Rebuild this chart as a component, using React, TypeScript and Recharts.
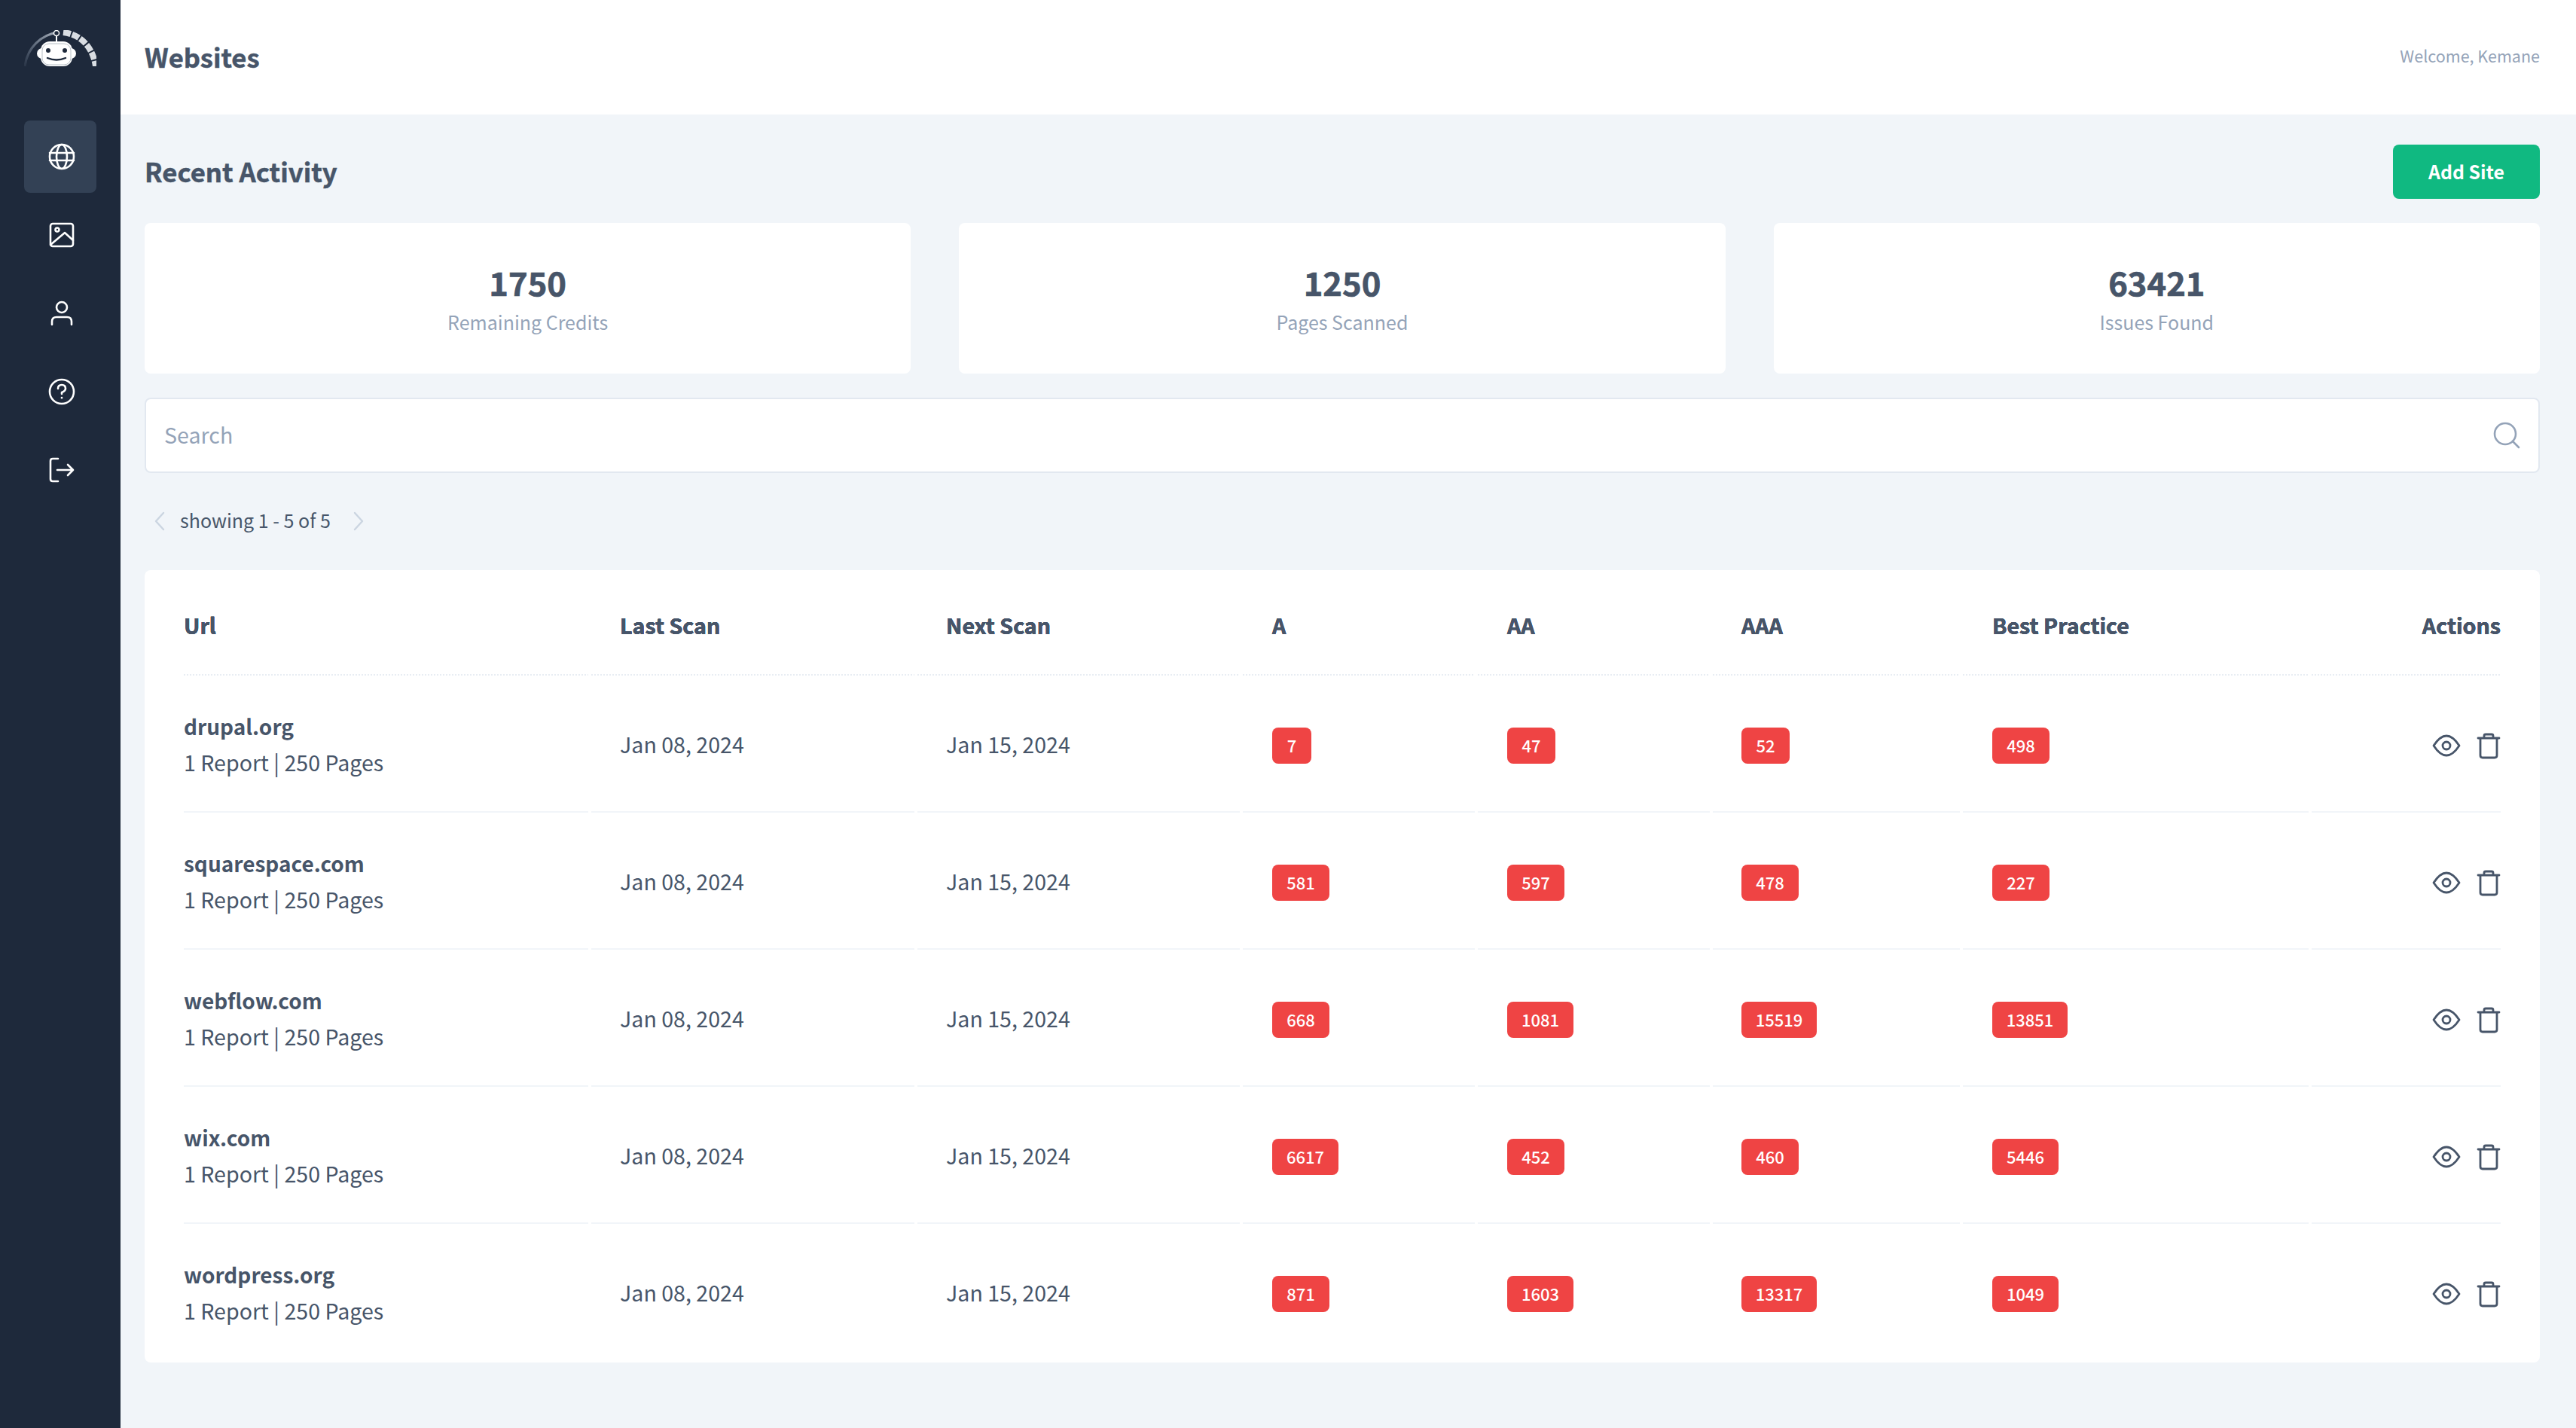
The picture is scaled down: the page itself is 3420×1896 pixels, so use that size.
import React from "react";
import { ScatterChart, Scatter, XAxis, YAxis, CartesianGrid } from "recharts";

const FONT = "'Noto Sans CJK SC', 'Noto Sans', sans-serif";
const INK = "#475569";
const MUTED = "#94a3b8";

const columns = ["Url", "Last Scan", "Next Scan", "A", "AA", "AAA", "Best Practice", "Actions"];
const sites = ["drupal.org", "squarespace.com", "webflow.com", "wix.com", "wordpress.org"];
const siteSubtitle = "1 Report | 250 Pages";
const lastScan = "Jan 08, 2024";
const nextScan = "Jan 15, 2024";
const scoresA = [7, 581, 668, 6617, 871];
const scoresAA = [47, 597, 1081, 452, 1603];
const scoresAAA = [52, 478, 15519, 460, 13317];
const scoresBest = [498, 227, 13851, 5446, 1049];

const statValues = ["1750", "1250", "63421"];
const statLabels = ["Remaining Credits", "Pages Scanned", "Issues Found"];

const scoreByColumn: Record<string, number[]> = { A: scoresA, AA: scoresAA, AAA: scoresAAA, "Best Practice": scoresBest };

const cells = sites.flatMap((site, r) =>
  columns.map((col) => ({ col, site, value: scoreByColumn[col] ? scoreByColumn[col][r] : null }))
);

// Table layout
const CHART_W = 3180;
const CHART_H = 1052;
const COLUMN_OFFSETS: Record<string, number> = {
  Url: 52, "Last Scan": 631, "Next Scan": 1064, A: 1497, AA: 1809, AAA: 2120, "Best Practice": 2453, Actions: 3128,
};
const GAPS = [589, 1022, 1454, 1766, 2078, 2410, 2873];

function columnScale(dom: any[] = columns, rng: number[] = [0, CHART_W]): any {
  let d = dom;
  let r = rng;
  const f: any = (v: string) => {
    const o = COLUMN_OFFSETS[v];
    return o === undefined ? undefined : r[0] + (o / CHART_W) * (r[1] - r[0]);
  };
  f.domain = (x?: any[]) => { if (x === undefined) return d; d = x; return f; };
  f.range = (x?: number[]) => { if (x === undefined) return r; r = x; return f; };
  f.copy = () => columnScale(d, r);
  return f;
}

const textBase = { fontFamily: FONT, dominantBaseline: "central" as const };

function Badge({ x, y, value }: { x: number; y: number; value: number }) {
  const label = String(value);
  const w = 40 + label.length * 12;
  return (
    <g>
      <rect x={x} y={y - 24} width={w} height={48} rx={8} fill="#ef4444" />
      <text x={x + w / 2} y={y - 1} textAnchor="middle" fontSize={22} fontWeight={500} fill="#fff" {...textBase}>{label}</text>
    </g>
  );
}

function Actions({ y }: { y: number }) {
  const ex = 3056;
  const tx = 3112;
  return (
    <g fill="none" stroke={INK} strokeWidth={2.8} strokeLinecap="round" strokeLinejoin="round">
      <path d={`M${ex - 17} ${y} Q${ex} ${y - 26} ${ex + 17} ${y} Q${ex} ${y + 26} ${ex - 17} ${y} Z`} />
      <circle cx={ex} cy={y} r={5} />
      <path d={`M${tx - 14} ${y - 10} H${tx + 14} M${tx - 11} ${y - 10} V${y + 13} Q${tx - 11} ${y + 16} ${tx - 8} ${y + 16} H${tx + 8} Q${tx + 11} ${y + 16} ${tx + 11} ${y + 13} V${y - 10} M${tx - 6} ${y - 10} V${y - 13} Q${tx - 6} ${y - 15} ${tx - 4} ${y - 15} H${tx + 4} Q${tx + 6} ${y - 15} ${tx + 6} ${y - 13} V${y - 10}`} />
    </g>
  );
}

function Cell(props: any) {
  const { cx, cy, payload } = props;
  const { col, site, value } = payload;
  if (col === "Url") {
    return (
      <g>
        <text x={cx} y={cy - 26} fontSize={28} fontWeight={600} fill={INK} {...textBase}>{site}</text>
        <text x={cx} y={cy + 21} fontSize={28.6} fontWeight={400} fill={INK} {...textBase}>{siteSubtitle}</text>
      </g>
    );
  }
  if (col === "Last Scan" || col === "Next Scan") {
    return <text x={cx} y={cy - 3} fontSize={28.6} fill={INK} {...textBase}>{col === "Last Scan" ? lastScan : nextScan}</text>;
  }
  if (col === "Actions") return <Actions y={cy} />;
  return <Badge x={cx} y={cy} value={value} />;
}

function HeaderTick(props: any) {
  const { x, payload } = props;
  const v = payload.value;
  return (
    <text x={x} y={72} textAnchor={v === "Actions" ? "end" : "start"} fontSize={28.6} fontWeight={700} fill={INK} {...textBase}>{v}</text>
  );
}

function GridLine(props: any) {
  const { y1, index } = props;
  const stops = [52, ...GAPS, 3128];
  const first = index === 0;
  return (
    <g>
      {stops.slice(0, -1).map((s, i) => (
        <line key={i} x1={s === 52 ? s : s + 4} x2={stops[i + 1]} y1={y1} y2={y1}
          stroke={first ? "#e8edf3" : "#f1f5f9"} strokeWidth={2} strokeDasharray={first ? "2 2" : undefined} />
      ))}
    </g>
  );
}

function Logo() {
  return (
    <svg width={96} height={48} viewBox="0 0 96 48" style={{ position: "absolute", left: 32, top: 40 }}>
      <defs>
        <linearGradient id="logoArc" x1="0" y1="1" x2="1" y2="0">
          <stop offset="0" stopColor="#94a3b8" stopOpacity={0.1} />
          <stop offset="1" stopColor="#aab2bc" stopOpacity={1} />
        </linearGradient>
      </defs>
      <path d="M1 48 C4 24 22 6 45 3" fill="none" stroke="url(#logoArc)" strokeWidth={3} />
      <path d="M52 3 C78 6 92 26 95 48" fill="none" stroke="#d9dde2" strokeWidth={8} strokeDasharray="10 2" />
      <path d="M43 8 V16" stroke="#fff" strokeWidth={2} />
      <circle cx={43} cy={4} r={3.5} fill="#1e293b" stroke="#fff" strokeWidth={1.5} />
      <rect x={22} y={15} width={42} height={33} rx={12} fill="#fff" />
      <rect x={17} y={24} width={52} height={14} rx={7} fill="#fff" />
      <rect x={24} y={18} width={38} height={28} rx={9} fill="none" stroke="#9aa3ae" strokeWidth={0.7} />
      <circle cx={32} cy={27} r={3} fill="#1e293b" />
      <circle cx={54} cy={27} r={3} fill="#1e293b" />
      <path d="M31 37 Q43 42 55 37" fill="none" stroke="#1e293b" strokeWidth={2.4} strokeLinecap="round" />
    </svg>
  );
}

function NavIcon({ y, children }: { y: number; children: React.ReactNode }) {
  return (
    <svg width={40} height={40} viewBox="-20 -20 40 40" fill="none" stroke="#fff" strokeWidth={2.6} strokeLinecap="round" strokeLinejoin="round"
      style={{ position: "absolute", left: 62, top: y - 20 }}>
      {children}
    </svg>
  );
}

function Sidebar() {
  return (
    <div style={{ position: "absolute", left: 0, top: 0, width: 160, height: 1896, background: "#1e293b" }}>
      <Logo />
      <div style={{ position: "absolute", left: 32, top: 160, width: 96, height: 96, borderRadius: 8, background: "#334155" }} />
      <NavIcon y={208}>
        <circle r={16} />
        <ellipse rx={7} ry={16} />
        <path d="M-16 -5 H16 M-16 5 H16" />
      </NavIcon>
      <NavIcon y={312}>
        <rect x={-15} y={-15} width={30} height={30} rx={3} />
        <circle cx={-6} cy={-7} r={2.5} />
        <path d="M-15 13 L4 -3 L15 7" />
      </NavIcon>
      <NavIcon y={416}>
        <circle cy={-8} r={7} />
        <path d="M-13 15 V11 Q-13 5 -7 5 H7 Q13 5 13 11 V15" />
      </NavIcon>
      <NavIcon y={520}>
        <circle r={16} />
        <path d="M-5 -4 Q-5 -9 0 -9 Q5 -9 5 -4 Q5 -1 0 1 V3" />
        <path d="M0 8 V8.2" />
      </NavIcon>
      <NavIcon y={624}>
        <path d="M-5 -15 H-12 Q-15 -15 -15 -12 V12 Q-15 15 -12 15 H-5" />
        <path d="M-6 0 H15 M8 -7 L15 0 L8 7" />
      </NavIcon>
    </div>
  );
}

function Abs({ x, y, right, size, weight, color, center, heavy, children }: any) {
  const style: React.CSSProperties = {
    position: "absolute", top: y, lineHeight: 0, fontSize: size, fontWeight: weight, color, whiteSpace: "nowrap", fontFamily: FONT,
  };
  if (heavy) (style as any).WebkitTextStroke = `${heavy}px ${color}`;
  if (center) { style.left = x; style.transform = "translateX(-50%)"; }
  else if (right !== undefined) style.right = right;
  else style.left = x;
  return <div style={style}>{children}</div>;
}

export default function App() {
  const cardW = 1017.33;
  return (
    <div style={{ position: "absolute", left: 0, top: 0, width: 3420, height: 1896, overflow: "hidden", background: "#f1f5f9", fontFamily: FONT }}>
      <Sidebar />
      <div style={{ position: "absolute", left: 160, top: 0, width: 3260, height: 152, background: "#fff" }} />
      <Abs x={192} y={75} size={34.6} weight={600} color={INK} heavy={0.5}>Websites</Abs>
      <Abs right={48} y={74} size={21.5} weight={400} color={MUTED}>Welcome, Kemane</Abs>
      <Abs x={192} y={227} size={34.7} weight={600} color={INK} heavy={0.5}>Recent Activity</Abs>

      <div style={{ position: "absolute", left: 3177, top: 192, width: 195, height: 72, borderRadius: 8, background: "#10b981" }} />
      <Abs x={3274.5} center y={227} size={24.8} weight={600} color="#fff">Add Site</Abs>

      {statValues.map((v, i) => {
        const left = 192 + i * (cardW + 64);
        return (
          <React.Fragment key={v}>
            <div style={{ position: "absolute", left, top: 296, width: cardW, height: 200, borderRadius: 8, background: "#fff" }} />
            <Abs x={left + cardW / 2} center y={375} size={43.5} weight={700} color={INK} heavy={0.7}>{v}</Abs>
            <Abs x={left + cardW / 2} center y={427} size={25} weight={400} color={MUTED}>{statLabels[i]}</Abs>
          </React.Fragment>
        );
      })}

      <div style={{ position: "absolute", left: 192, top: 528, width: 3180, height: 100, boxSizing: "border-box", border: "2px solid #e2e8f0", borderRadius: 8, background: "#fff" }} />
      <Abs x={218} y={577} size={28.6} weight={400} color={MUTED}>Search</Abs>
      <svg width={40} height={40} viewBox="-20 -20 40 40" fill="none" stroke={MUTED} strokeWidth={2.6} strokeLinecap="round" style={{ position: "absolute", left: 3308, top: 558 }}>
        <circle cx={-2} cy={-2} r={14} />
        <path d="M8 8 L16 16" />
      </svg>

      <svg width={24} height={32} viewBox="0 0 24 32" fill="none" stroke="#cbd5e1" strokeWidth={2.4} strokeLinecap="round" strokeLinejoin="round" style={{ position: "absolute", left: 200, top: 676 }}>
        <path d="M17 5 L7 16 L17 27" />
      </svg>
      <Abs x={239} y={690} size={25} weight={400} color={INK}>showing 1 - 5 of 5</Abs>
      <svg width={24} height={32} viewBox="0 0 24 32" fill="none" stroke="#cbd5e1" strokeWidth={2.4} strokeLinecap="round" strokeLinejoin="round" style={{ position: "absolute", left: 464, top: 676 }}>
        <path d="M7 5 L17 16 L7 27" />
      </svg>

      <div style={{ position: "absolute", left: 192, top: 757, width: CHART_W, height: CHART_H, borderRadius: 8, background: "#fff" }}>
        <ScatterChart width={CHART_W} height={CHART_H} margin={{ top: 0, right: 0, bottom: 91, left: 0 }}>
          <CartesianGrid vertical={false} horizontal={(p: any) => <GridLine key={p.index} {...p} />} horizontalPoints={[139, 321, 503, 685, 867]} />
          <XAxis dataKey="col" type="category" orientation="top" height={233} scale={columnScale()} allowDuplicatedCategory={false}
            axisLine={false} tickLine={false} interval={0} tick={<HeaderTick />} />
          <YAxis dataKey="site" type="category" scale="point" width={0} hide allowDuplicatedCategory={false} reversed />
          <Scatter data={cells} isAnimationActive={false} shape={<Cell />} />
        </ScatterChart>
      </div>
    </div>
  );
}
